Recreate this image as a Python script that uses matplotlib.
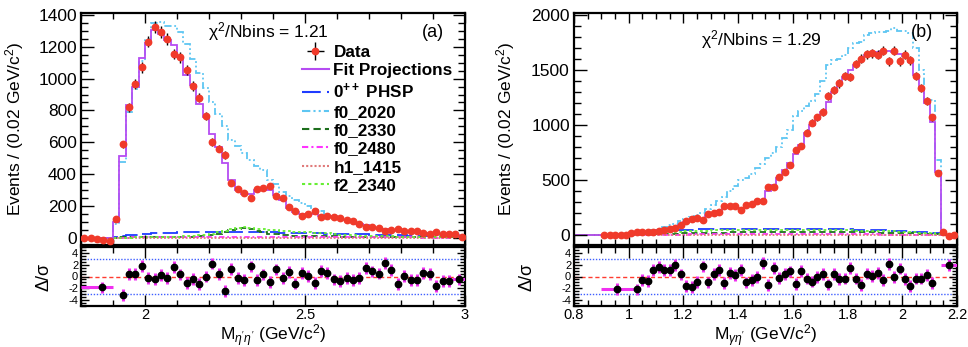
import numpy as np
import matplotlib
matplotlib.use("Agg")
import matplotlib.pyplot as plt
from matplotlib.ticker import MultipleLocator

plt.rcParams['font.family'] = ['Liberation Sans', 'DejaVu Sans']
plt.rcParams['mathtext.fontset'] = 'custom'
plt.rcParams['mathtext.rm'] = 'Liberation Sans'
plt.rcParams['mathtext.it'] = 'Liberation Sans:italic'
plt.rcParams['mathtext.bf'] = 'Liberation Sans:bold'
plt.rcParams['axes.unicode_minus'] = False

# ---------------- Panel (a): M(eta' eta') ----------------
range_a = (1.80, 3.00)
binw = 0.02
data_a = [0, -2, -6, -15, -19, 117, 587, 820, 964, 1071,
          1231, 1323, 1294, 1249, 1155, 1134, 1054, 954, 880, 765,
          600, 560, 520, 346, 304, 279, 252, 306, 310, 325,
          264, 252, 191, 170, 138, 149, 168, 132, 136, 133,
          123, 110, 104, 90, 67, 65, 63, 46, 50, 58,
          46, 42, 40, 29, 27, 35, 25, 23, 27, 6]
fit_a = [0, 0, 0, 0, 0, 100, 515, 835, 945, 1130,
         1225, 1305, 1280, 1240, 1210, 1135, 1020, 960, 840, 760,
         655, 570, 468, 365, 300, 275, 275, 300, 310, 300,
         270, 240, 190, 162, 150, 150, 152, 140, 135, 128,
         120, 112, 100, 90, 78, 68, 60, 55, 50, 47,
         45, 40, 36, 33, 30, 28, 25, 22, 18, 12]
phsp_a = [0, 0, 0, 0, 0, 6, 12, 16, 20, 23,
          26, 28, 30, 32, 33, 34, 35, 36, 37, 37,
          38, 38, 38, 38, 37, 37, 36, 36, 35, 35,
          34, 33, 33, 32, 31, 30, 29, 28, 27, 26,
          25, 24, 23, 22, 21, 20, 19, 18, 17, 16,
          15, 14, 13, 12, 11, 10, 9, 8, 7, 6]
f0_2020_a = [0, 0, 0, 0, 0, 90, 475, 790, 935, 1110,
             1250, 1350, 1355, 1330, 1330, 1290, 1215, 1120, 1035, 940,
             850, 775, 700, 615, 575, 530, 490, 450, 425, 365,
             335, 290, 260, 240, 220, 200, 180, 170, 150, 140,
             125, 112, 100, 90, 80, 70, 62, 55, 50, 45,
             42, 38, 34, 30, 26, 22, 18, 15, 12, 8]
f0_2330_a = [0, 0, 0, 0, 0, 2, 3, 3, 4, 4,
             4, 5, 5, 5, 6, 6, 7, 8, 10, 13,
             18, 25, 35, 48, 58, 60, 55, 45, 35, 27,
             22, 18, 16, 14, 13, 12, 11, 10, 9, 9,
             8, 8, 7, 7, 6, 6, 6, 5, 5, 5,
             5, 4, 4, 4, 4, 3, 3, 3, 3, 2]
f0_2480_a = [0, 0, 0, 0, 0, 1, 2, 2, 3, 3,
             3, 3, 4, 4, 4, 4, 4, 4, 4, 4,
             4, 4, 4, 4, 4, 4, 4, 4, 4, 4,
             4, 4, 4, 4, 4, 4, 4, 4, 4, 4,
             4, 3, 3, 3, 3, 3, 3, 3, 3, 3,
             3, 3, 3, 2, 2, 2, 2, 2, 2, 2]
h1_1415_a = [0, 0, 0, 0, 0, 1, 1, 1, 2, 2,
             2, 2, 2, 2, 2, 2, 2, 2, 2, 2,
             2, 2, 2, 2, 2, 2, 2, 2, 2, 2,
             2, 2, 2, 2, 2, 2, 2, 2, 2, 2,
             2, 2, 2, 2, 2, 2, 2, 2, 2, 2,
             1, 1, 1, 1, 1, 1, 1, 1, 1, 1]
f2_2340_a = [0, 0, 0, 0, 0, 1, 2, 2, 3, 3,
             4, 4, 5, 6, 7, 8, 10, 12, 15, 20,
             27, 36, 46, 56, 64, 66, 63, 58, 54, 50,
             47, 44, 41, 38, 36, 34, 32, 30, 28, 26,
             20, 18, 16, 14, 13, 12, 11, 10, 9, 8,
             7, 7, 6, 6, 5, 5, 4, 4, 3, 3]
# pulls (Delta/sigma) for single bins 6..57, plus two merged edge points
pull_a_first_bin = 6
pull_a = [-3.2, 0.45, 0.45, 1.8, -0.3, -0.45, 0.2, -0.3, 1.6, 0.35,
          -1.1, -0.4, -1.3, 0.0, 2.2, 0.4, -2.4, 1.3, -0.2, -0.6,
          1.7, -0.6, 0.35, -0.95, 1.2, -0.2, 0.7, -1.2, 0.65, 0.05,
          -1.05, 1.0, 0.55, -0.5, -0.7, -0.2, -0.6, -0.3, 1.45, 0.85,
          0.5, 2.3, 1.05, -1.3, 0.05, -0.6, -0.6, 0.65, 0.45, -1.55,
          -0.8, -0.8]
merged_a_x = [1.865, 2.98]
merged_a_lo = [1.80, 2.96]
merged_a_hi = [1.90, 3.00]
merged_a_pull = [-1.85, -0.5]

# ---------------- Panel (b): M(gamma eta') ----------------
range_b = (0.80, 2.20)
data_b_first_bin = 5
data_b = [0, 0, 0, -3, 0, 18, 24, 24, 30, 24,
          36, 48, 58, 67, 94, 130, 148, 152, 139, 191,
          200, 209, 264, 264, 261, 230, 273, 282, 309, 309,
          442, 433, 524, 576, 642, 773, 812, 930, 1021, 1070,
          1121, 1264, 1318, 1379, 1445, 1439, 1555, 1606, 1645, 1652,
          1642, 1676, 1582, 1676, 1582, 1642, 1591, 1445, 1342, 1218,
          1070, 567, 24, -9, -3]
fit_b = [0, 0, 0, 0, 0, 0, 0, 0, 0, 2,
         12, 18, 24, 30, 35, 42, 50, 60, 72, 92,
         120, 140, 150, 150, 180, 200, 220, 258, 262, 262,
         250, 268, 285, 305, 320, 400, 455, 520, 590, 660,
         740, 820, 930, 1000, 1060, 1120, 1210, 1300, 1370, 1440,
         1500, 1550, 1600, 1640, 1660, 1665, 1670, 1670, 1665, 1650,
         1630, 1570, 1460, 1330, 1200, 1030, 570, 20, 0, 0]
phsp_b = [0, 0, 0, 0, 0, 1, 2, 4, 6, 9,
          12, 15, 18, 22, 26, 30, 34, 38, 42, 45,
          48, 50, 52, 54, 55, 56, 57, 57, 58, 58,
          58, 58, 58, 58, 58, 58, 58, 58, 58, 58,
          57, 57, 57, 56, 56, 55, 55, 54, 53, 52,
          51, 50, 49, 48, 46, 44, 42, 40, 38, 36,
          34, 32, 30, 28, 25, 22, 18, 0, 0, 0]
f0_2020_b = [0, 0, 0, 0, 0, 2, 3, 5, 8, 12,
             18, 25, 32, 40, 50, 60, 72, 90, 105, 125,
             145, 165, 185, 205, 240, 275, 310, 350, 400, 450,
             500, 520, 560, 610, 650, 700, 750, 800, 880, 960,
             1080, 1130, 1170, 1220, 1280, 1400, 1550, 1590, 1600, 1640,
             1700, 1750, 1760, 1820, 1840, 1845, 1850, 1860, 1880, 1860,
             1860, 1840, 1700, 1500, 1230, 1230, 680, 30, 0, 0]
f0_2330_b = [0, 0, 0, 0, 0, 1, 1, 2, 3, 4,
             5, 6, 7, 8, 10, 11, 12, 13, 14, 15,
             16, 17, 18, 19, 20, 21, 22, 23, 24, 25,
             25, 26, 26, 27, 27, 27, 28, 28, 28, 28,
             28, 28, 28, 28, 28, 28, 28, 27, 27, 27,
             26, 26, 25, 25, 24, 23, 22, 21, 20, 19,
             18, 17, 15, 14, 12, 10, 8, 0, 0, 0]
f0_2480_b = [0, 0, 0, 0, 0, 1, 1, 1, 2, 2,
             2, 3, 3, 3, 4, 4, 4, 5, 5, 5,
             5, 6, 6, 6, 6, 6, 7, 7, 7, 7,
             7, 7, 7, 7, 7, 7, 7, 7, 7, 7,
             7, 7, 7, 7, 7, 7, 7, 7, 7, 7,
             6, 6, 6, 6, 6, 6, 5, 5, 5, 5,
             4, 4, 4, 3, 3, 3, 2, 0, 0, 0]
h1_1415_b = [0, 0, 0, 0, 0, 0, 1, 1, 1, 1,
             1, 1, 2, 2, 2, 2, 2, 2, 2, 2,
             2, 2, 2, 3, 3, 3, 3, 3, 3, 3,
             3, 3, 3, 3, 3, 3, 3, 3, 3, 3,
             3, 3, 3, 3, 3, 3, 3, 3, 3, 3,
             3, 3, 3, 3, 3, 3, 2, 2, 2, 2,
             2, 2, 2, 2, 2, 2, 1, 0, 0, 0]
f2_2340_b = [0, 0, 0, 0, 0, 1, 2, 3, 4, 6,
             8, 10, 12, 14, 17, 20, 23, 26, 29, 32,
             34, 36, 38, 40, 41, 42, 43, 44, 45, 45,
             46, 46, 46, 46, 46, 46, 46, 46, 46, 46,
             46, 46, 46, 46, 46, 45, 45, 44, 44, 43,
             42, 41, 40, 39, 38, 37, 36, 35, 33, 31,
             29, 27, 25, 23, 20, 17, 13, 0, 0, 0]
pull_b_first_bin = 11
pull_b = [-2.2, -0.55, -0.8, 1.05, 1.65, 1.05, 1.1, 2.0, 0.35, -1.55,
          -1.8, -0.9, 1.7, -1.0, 0.45, 1.1, -1.15, 0.55, 0.2, 1.1,
          -1.0, -0.55, -0.05, 2.3, -1.4, 1.5, -0.3, 0.4, 0.85, -1.3,
          0.9, -0.35, -0.85, -0.05, 0.4, -1.35, 0.4, -0.45, -0.35, 1.5,
          -0.35, -1.4, 0.5, 0.05, 0.65, -0.65, 2.15, -0.05, 1.35, -0.45,
          -1.65, -0.35, -0.35, 0.2, -1.15]
merged_b_x = [0.958, 2.17]
merged_b_lo = [0.90, 2.14]
merged_b_hi = [1.02, 2.20]
merged_b_pull = [-2.1, 1.9]

labels = ["Data", "Fit Projections", r"$\mathbf{0^{++}}$ PHSP", "f0_2020",
          "f0_2330", "f0_2480", "h1_1415", "f2_2340"]

C_FIT = "#b54cf2"
C_PHSP = "#1f3cff"
C_2020 = "#5ec6f2"
C_2330 = "#1c6e1c"
C_2480 = "#ff33ff"
C_1415 = "#e07a7a"
C_2340 = "#66ee33"
C_DATA = "#f03a2a"

STY = [
    (C_PHSP, (0, (9, 3))),
    (C_2020, (0, (4, 1.5, 1, 1.5, 1, 1.5))),
    (C_2330, (0, (3.5, 2))),
    (C_2480, (0, (3, 1.5, 1, 1.5))),
    (C_1415, (0, (1, 1))),
    (C_2340, (0, (1.5, 1.5))),
]

W, H = 968, 347
fig = plt.figure(figsize=(W / 100, H / 100), dpi=100)


def box(l, t, r, b):
    return [l / W, 1 - b / H, (r - l) / W, (b - t) / H]


def style_axes(ax, lw=1.6):
    for s in ax.spines.values():
        s.set_linewidth(lw)
    ax.tick_params(which='both', direction='in', top=True, right=True, width=1.0)


def draw_panel(ax, axr, rng, first_data_bin, data, fit, comps, pulls, pull_first,
               mx, mlo, mhi, mpull, ylim, ymaj, ymin, xmaj, xmin, xticklabels):
    nb = int(round((rng[1] - rng[0]) / binw))
    edges = rng[0] + binw * np.arange(nb + 1)
    centers = 0.5 * (edges[:-1] + edges[1:])
    # components
    for vals, (c, ls) in zip(comps, STY):
        ax.stairs(vals, edges, baseline=None, color=c, lw=1.3, linestyle=ls)
    ax.stairs(fit, edges, baseline=None, color=C_FIT, lw=1.3)
    d = np.asarray(data, float)
    xc = centers[first_data_bin:first_data_bin + len(d)]
    ax.errorbar(xc, d, yerr=np.sqrt(np.abs(d)), fmt='o', color=C_DATA, ms=4.6,
                ecolor='black', elinewidth=1.0, capsize=0, zorder=5)
    ax.set_xlim(*rng)
    ax.set_ylim(*ylim)
    ax.yaxis.set_major_locator(MultipleLocator(ymaj))
    ax.yaxis.set_minor_locator(MultipleLocator(ymin))
    ax.xaxis.set_major_locator(MultipleLocator(xmaj))
    ax.xaxis.set_minor_locator(MultipleLocator(xmin))
    style_axes(ax)
    ax.tick_params(axis='y', which='major', length=9, labelsize=12.5, pad=3)
    ax.tick_params(axis='y', which='minor', length=5)
    ax.tick_params(axis='x', which='major', length=7, labelbottom=False)
    ax.tick_params(axis='x', which='minor', length=4)
    ax.set_ylabel("Events / (0.02 GeV/c$^{2}$)", fontsize=12.5)

    # pull panel
    p = np.asarray(pulls, float)
    px = centers[pull_first:pull_first + len(p)]
    axr.axhline(0, color='#ff3b2f', lw=1.0, ls=(0, (3, 2)), zorder=1)
    axr.axhline(3, color='#3f5fff', lw=1.0, ls=(0, (1, 1.2)), zorder=1)
    axr.axhline(-3, color='#3f5fff', lw=1.0, ls=(0, (1, 1.2)), zorder=1)
    axr.errorbar(px, p, yerr=np.ones_like(p), fmt='o', color='black', ms=4.6,
                 ecolor='#f030f0', elinewidth=2.2, capsize=0, zorder=4)
    mx = np.asarray(mx)
    xerr = [mx - np.asarray(mlo), np.asarray(mhi) - mx]
    axr.errorbar(mx, mpull, xerr=xerr, yerr=[1, 1], fmt='o', color='black', ms=4.6,
                 ecolor='#f030f0', elinewidth=2.2, capsize=0, zorder=4)
    axr.set_xlim(*rng)
    axr.set_ylim(-5, 5)
    axr.set_yticks([-4, -2, 0, 2, 4])
    axr.yaxis.set_minor_locator(MultipleLocator(0.5))
    axr.xaxis.set_major_locator(MultipleLocator(xmaj))
    axr.xaxis.set_minor_locator(MultipleLocator(xmin))
    axr.set_xticks(xticklabels[0])
    axr.set_xticklabels(xticklabels[1])
    style_axes(axr)
    axr.tick_params(axis='y', which='major', length=6, labelsize=8, pad=2)
    axr.tick_params(axis='y', which='minor', length=3.5)
    axr.tick_params(axis='x', which='major', length=8, labelsize=10.5, pad=1.5)
    axr.tick_params(axis='x', which='minor', length=4.5)
    axr.set_ylabel("Δ/σ", fontsize=13)


# ---- panel a
ax_a = fig.add_axes(box(81, 13, 465, 245))
axr_a = fig.add_axes(box(81, 247, 465, 306))
draw_panel(ax_a, axr_a, range_a, 0, data_a, fit_a,
           [phsp_a, f0_2020_a, f0_2330_a, f0_2480_a, h1_1415_a, f2_2340_a],
           pull_a, pull_a_first_bin, merged_a_x, merged_a_lo, merged_a_hi, merged_a_pull,
           (-45, 1412), 200, 50, 0.5, 0.1,
           ([2.0, 2.5, 3.0], ["2", "2.5", "3"]))
ax_a.yaxis.set_label_coords(-0.143, 0.5)
axr_a.yaxis.set_label_coords(-0.073, 0.5)
axr_a.set_xlabel(r"M$_{\eta'\eta'}$ (GeV/c$^{2}$)", fontsize=12.5, labelpad=0)
ax_a.text(0.487, 0.918, "χ$^{2}$/Nbins = 1.21", transform=ax_a.transAxes,
          ha='center', va='center', fontsize=12.5)
ax_a.text(0.917, 0.918, "(a)", transform=ax_a.transAxes, ha='center', va='center',
          fontsize=13)

# legend (panel a)
hd = ax_a.errorbar([np.nan], [np.nan], xerr=[1], yerr=[1], fmt='o', color=C_DATA,
                   ms=4.6, ecolor='black', elinewidth=1.0)
handles = [hd, plt.Line2D([], [], color=C_FIT, lw=1.5)]
for c, ls in STY:
    handles.append(plt.Line2D([], [], color=c, lw=1.5, linestyle=ls))
leg = ax_a.legend(handles, labels, loc='upper left', bbox_to_anchor=(0.575, 0.862),
                  frameon=False, prop={'weight': 'bold', 'size': 12.3},
                  handlelength=1.6, handletextpad=0.25, labelspacing=0.2,
                  borderpad=0, borderaxespad=0)

# ---- panel b
ax_b = fig.add_axes(box(574, 13, 957, 245))
axr_b = fig.add_axes(box(574, 247, 957, 306))
draw_panel(ax_b, axr_b, range_b, data_b_first_bin, data_b, fit_b,
           [phsp_b, f0_2020_b, f0_2330_b, f0_2480_b, h1_1415_b, f2_2340_b],
           pull_b, pull_b_first_bin, merged_b_x, merged_b_lo, merged_b_hi, merged_b_pull,
           (-90, 2020), 500, 100, 0.2, 0.05,
           ([0.8, 1.0, 1.2, 1.4, 1.6, 1.8, 2.0, 2.2],
            ["0.8", "1", "1.2", "1.4", "1.6", "1.8", "2", "2.2"]))
ax_b.yaxis.set_label_coords(-0.149, 0.5)
axr_b.yaxis.set_label_coords(-0.10, 0.5)
axr_b.set_xlabel(r"M$_{\gamma\eta'}$ (GeV/c$^{2}$)", fontsize=12.5, labelpad=0)
ax_b.text(0.488, 0.884, "χ$^{2}$/Nbins = 1.29", transform=ax_b.transAxes,
          ha='center', va='center', fontsize=12.5)
ax_b.text(0.909, 0.918, "(b)", transform=ax_b.transAxes, ha='center', va='center',
          fontsize=13)

fig.savefig("out.png", dpi=100)
